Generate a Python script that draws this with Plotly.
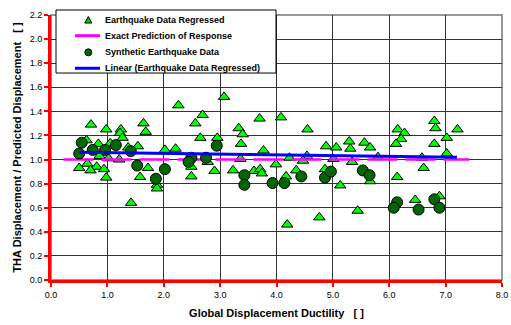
import plotly.graph_objects as go

# Earthquake Data Regressed (triangles)
eq_x = [2.26, 2.69, 2.56, 0.71, 0.98, 1.24, 1.225, 1.64, 1.68, 1.27, 2.65, 0.63, 0.84, 1.05,
        1.54, 1.37, 2.02, 2.21, 0.86, 1.02, 1.21, 0.645, 0.81, 0.50, 0.70, 0.94, 0.98, 1.72,
        1.58, 2.49, 2.49, 2.90, 2.78, 1.88, 1.88, 1.42, 3.07, 3.70, 4.08, 3.33, 3.40, 4.55,
        2.95, 3.37, 3.77, 4.88, 5.06, 5.29, 5.31, 3.36, 4.23, 4.54, 4.47, 5.01, 5.34, 3.99,
        3.23, 3.60, 3.71, 3.74, 4.17, 4.35, 4.86, 5.13, 5.44, 4.76, 4.19, 6.80, 6.82, 7.21,
        6.15, 6.27, 6.21, 6.12, 7.02, 6.80, 5.56, 5.66, 7.02, 5.80, 6.58, 6.61, 6.14, 5.66,
        6.46, 6.89]
eq_y = [1.45, 1.37, 1.30, 1.29, 1.25, 1.25, 1.22, 1.30, 1.23, 1.18, 1.18, 1.16, 1.13, 1.135,
        1.11, 1.10, 1.08, 1.09, 1.03, 1.01, 1.00, 0.965, 0.94, 0.93, 0.91, 0.92, 0.85, 0.93,
        0.855, 0.86, 0.94, 0.905, 0.98, 0.79, 0.76, 0.64, 1.52, 1.34, 1.35, 1.26, 1.21, 1.25,
        1.18, 1.13, 1.075, 1.11, 1.10, 1.15, 1.09, 1.005, 1.015, 1.03, 0.99, 1.005, 0.98, 0.96,
        0.91, 0.905, 0.92, 0.885, 0.86, 0.91, 0.92, 0.785, 0.575, 0.52, 0.46, 1.32, 1.26, 1.25,
        1.25, 1.22, 1.17, 1.13, 1.18, 1.13, 1.14, 1.10, 1.05, 1.02, 1.015, 0.93, 0.855, 0.82,
        0.665, 0.695]

# Synthetic Earthquake Data (circles)
syn_x = [0.545, 0.50, 0.74, 0.96, 1.15, 1.415, 2.49, 2.44, 2.75, 1.53, 2.02, 1.86, 2.94,
         3.43, 3.43, 3.93, 4.14, 4.44, 4.86, 4.965, 5.53, 5.65, 6.14, 6.08, 6.52, 6.80, 6.89]
syn_y = [1.14, 1.05, 1.08, 1.08, 1.12, 1.07, 1.015, 0.98, 1.015, 0.95, 0.92, 0.84, 1.115,
         0.87, 0.79, 0.805, 0.805, 0.86, 0.85, 0.90, 0.91, 0.87, 0.645, 0.60, 0.585, 0.67, 0.60]

# Exact prediction line and linear trend
exact_x = [0.22, 7.42]
exact_y = [1.0, 1.0]
trend_x = [0.5, 7.2]
trend_y = [1.06, 1.02]

x_ticks = [0, 1, 2, 3, 4, 5, 6, 7, 8]
y_ticks = [0.0, 0.2, 0.4, 0.6, 0.8, 1.0, 1.2, 1.4, 1.6, 1.8, 2.0, 2.2]

legend_names = ["Earthquake Data Regressed", "Exact Prediction of Response",
                "Synthetic Earthquake Data", "Linear (Earthquake Data Regressed)"]

FONT = "Liberation Sans, Arial, sans-serif"
SP = "\u00a0\u00a0\u00a0"

fig = go.Figure()
fig.add_trace(go.Scatter(
    x=eq_x, y=eq_y, mode="markers", name=legend_names[0],
    marker=dict(symbol="triangle-up", size=10, color="#00FF00",
                line=dict(color="black", width=1))))
fig.add_trace(go.Scatter(
    x=exact_x, y=exact_y, mode="lines", name=legend_names[1],
    line=dict(color="#FF00FF", width=2.5, dash="30px,8px")))
fig.add_trace(go.Scatter(
    x=syn_x, y=syn_y, mode="markers", name=legend_names[2],
    marker=dict(symbol="circle", size=11, color="#006600",
                line=dict(color="black", width=1))))
fig.add_trace(go.Scatter(
    x=trend_x, y=trend_y, mode="lines", name=legend_names[3],
    line=dict(color="#0000FF", width=3)))

# custom legend (compact rows like the original)
row_y = [0.981, 0.922, 0.859, 0.799]
sym_x = 0.0827
shapes = [
    dict(type="rect", xref="paper", yref="paper", x0=0, y0=0, x1=1, y1=1,
         line=dict(color="#777777", width=1.5), layer="below"),
    dict(type="rect", xref="paper", yref="paper", x0=0.0111, y0=0.781, x1=0.4989, y1=1.0189,
         line=dict(color="black", width=1), fillcolor="white", layer="above"),
    dict(type="path", xref="paper", yref="paper", xsizemode="pixel", ysizemode="pixel",
         xanchor=sym_x, yanchor=row_y[0], path="M -3.5,-3 L 3.5,-3 L 0,3.5 Z",
         fillcolor="#00CC00", line=dict(color="black", width=1), layer="above"),
    dict(type="line", xref="paper", yref="paper", x0=0.0532, x1=0.1086,
         y0=row_y[1], y1=row_y[1], line=dict(color="#FF00FF", width=3), layer="above"),
    dict(type="circle", xref="paper", yref="paper", xsizemode="pixel", ysizemode="pixel",
         xanchor=sym_x, yanchor=row_y[2], x0=-3.5, x1=3.5, y0=-3.5, y1=3.5,
         fillcolor="#006600", line=dict(color="black", width=1), layer="above"),
    dict(type="line", xref="paper", yref="paper", x0=0.0532, x1=0.1086,
         y0=row_y[3], y1=row_y[3], line=dict(color="#0000FF", width=3), layer="above"),
]
annotations = [
    dict(xref="paper", yref="paper", x=0.1153, y=ry, xanchor="left", yanchor="middle",
         text="<b>" + nm + "</b>", showarrow=False,
         font=dict(family=FONT, size=9, color="black"))
    for nm, ry in zip(legend_names, row_y)
]

fig.update_layout(
    width=511, height=325,
    margin=dict(l=51, r=9, t=15, b=45, autoexpand=False),
    paper_bgcolor="white", plot_bgcolor="white",
    font=dict(family=FONT, size=9, color="black"),
    showlegend=False,
    xaxis=dict(range=[0, 8], tickvals=x_ticks, tickformat=".1f",
               showgrid=True, gridcolor="#333333", gridwidth=1,
               showline=True, linecolor="red", linewidth=3,
               ticks="outside", tickcolor="red", tickwidth=2, ticklen=4,
               tickfont=dict(family=FONT, size=9, color="black"),
               ticklabeloverflow="allow",
               zeroline=False,
               title=dict(text="<b>Global Displacement Ductility" + SP + "[ ]</b>",
                          font=dict(family=FONT, size=11, color="black"), standoff=11)),
    yaxis=dict(range=[0, 2.2], tickvals=y_ticks, tickformat=".1f",
               showgrid=True, gridcolor="#333333", gridwidth=1,
               showline=True, linecolor="red", linewidth=3,
               ticks="outside", tickcolor="red", tickwidth=2, ticklen=4,
               tickfont=dict(family=FONT, size=9, color="black"),
               ticklabeloverflow="allow",
               zeroline=False,
               title=dict(text="<b>THA Displacement / Predicted Displacement" + SP + "[ ]</b>",
                          font=dict(family=FONT, size=11, color="black"), standoff=6)),
    shapes=shapes,
    annotations=annotations,
)

fig.write_html("out.html", config=dict(displayModeBar=False),
               post_script="document.body.style.margin='0';document.body.style.overflow='hidden';")
